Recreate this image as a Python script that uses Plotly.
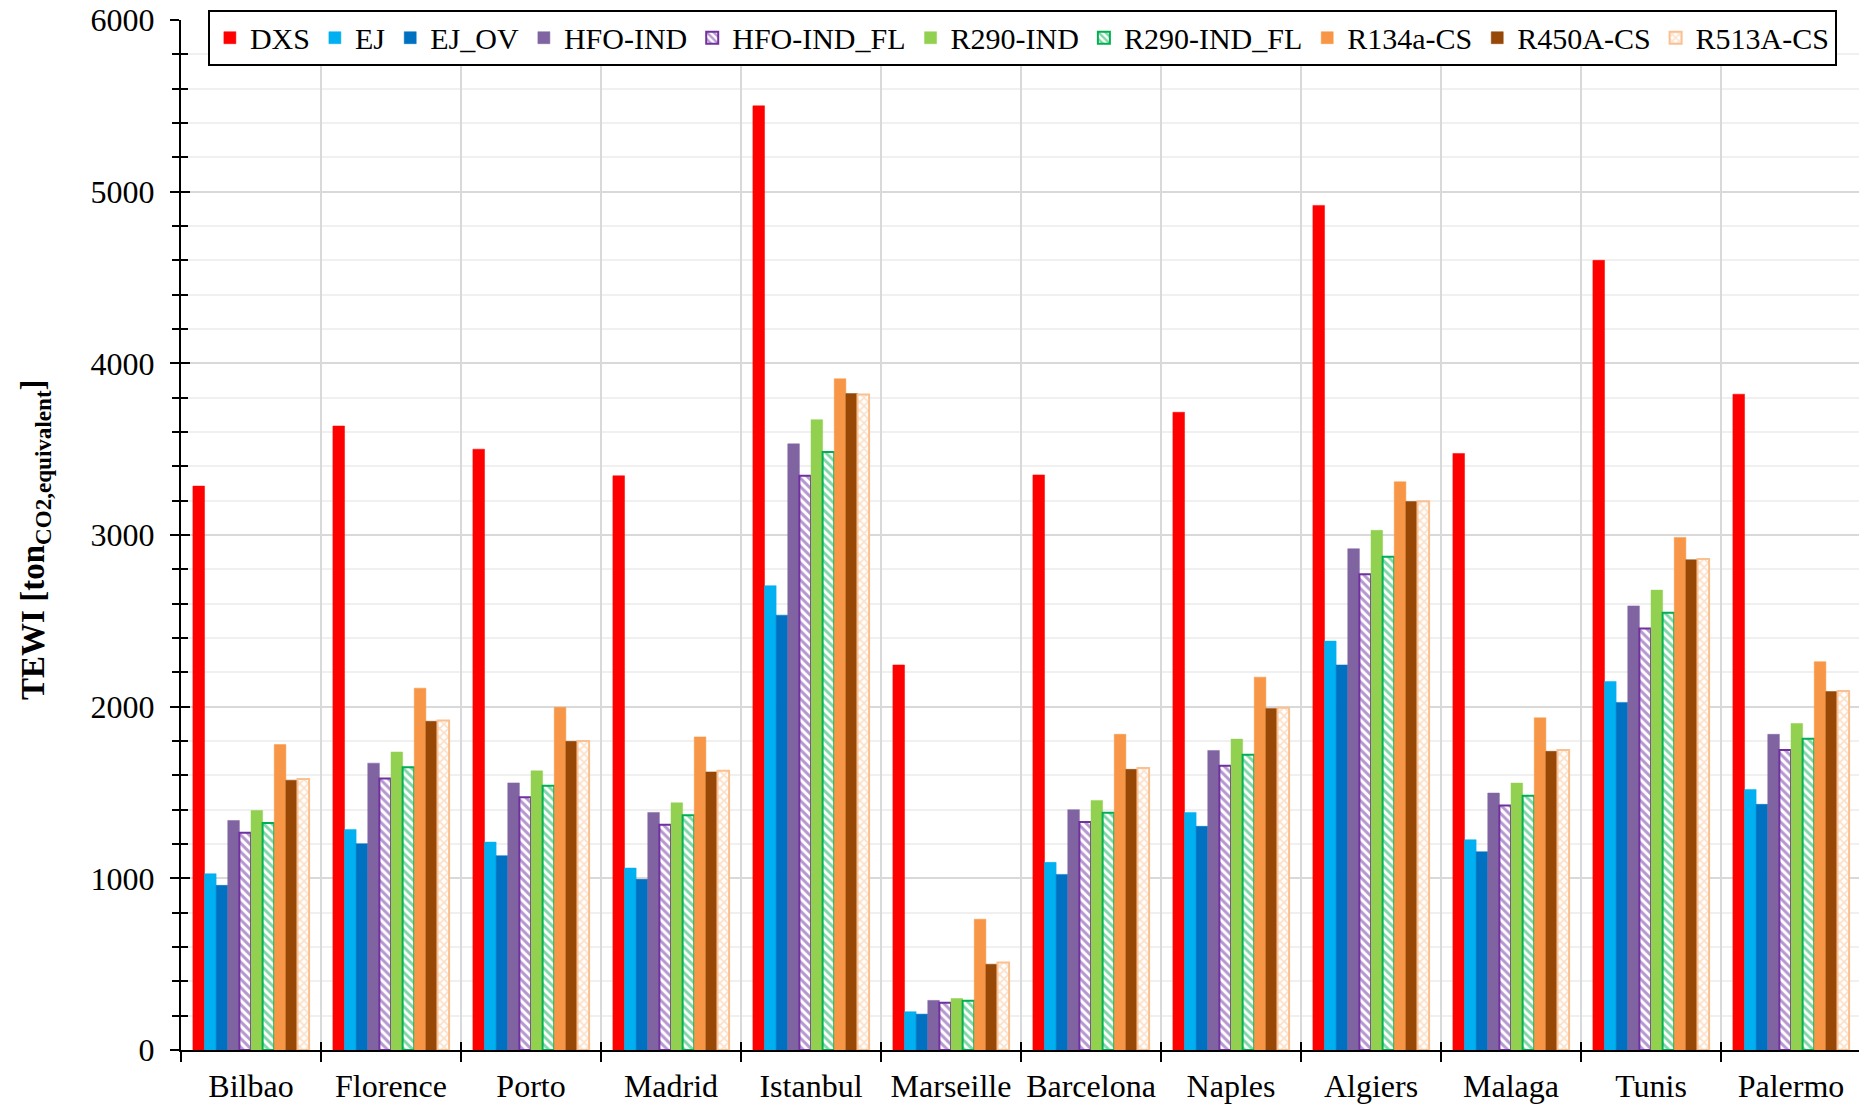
import plotly.graph_objects as go

cities = ["Bilbao", "Florence", "Porto", "Madrid", "Istanbul", "Marseille",
          "Barcelona", "Naples", "Algiers", "Malaga", "Tunis", "Palermo"]

DXS = [3285, 3635, 3500, 3345, 5500, 2243, 3350, 3715, 4920, 3475, 4600, 3820]
EJ = [1027, 1285, 1211, 1060, 2705, 223, 1093, 1384, 2382, 1225, 2147, 1518]
EJ_OV = [959, 1202, 1132, 994, 2533, 209, 1023, 1303, 2243, 1155, 2025, 1431]
HFO_IND = [1337, 1671, 1556, 1384, 3531, 289, 1400, 1745, 2920, 1497, 2587, 1839]
HFO_IND_FL = [1265, 1581, 1473, 1312, 3345, 275, 1328, 1656, 2771, 1425, 2456, 1747]
R290_IND = [1395, 1736, 1626, 1440, 3672, 300, 1454, 1811, 3027, 1555, 2679, 1902]
R290_IND_FL = [1322, 1647, 1539, 1368, 3484, 287, 1382, 1720, 2873, 1481, 2547, 1813]
R134a_CS = [1779, 2108, 1996, 1824, 3910, 762, 1839, 2172, 3310, 1935, 2986, 2262]
R450A_CS = [1572, 1915, 1798, 1620, 3824, 500, 1635, 1990, 3195, 1740, 2856, 2088]
R513A_CS = [1578, 1919, 1800, 1626, 3818, 510, 1642, 1994, 3197, 1747, 2860, 2091]

series = [
    ("DXS", DXS, "#FF0000", None),
    ("EJ", EJ, "#00B0F0", None),
    ("EJ_OV", EJ_OV, "#0070C0", None),
    ("HFO-IND", HFO_IND, "#8064A2", None),
    ("HFO-IND_FL", HFO_IND_FL, "#7030A0", "\\"),
    ("R290-IND", R290_IND, "#92D050", None),
    ("R290-IND_FL", R290_IND_FL, "#00B050", "\\"),
    ("R134a-CS", R134a_CS, "#F79646", None),
    ("R450A-CS", R450A_CS, "#974706", None),
    ("R513A-CS", R513A_CS, "#FAC090", "x"),
]

FONT = "Liberation Serif, Times New Roman, serif"

fig = go.Figure()
for name, vals, col, pat in series:
    if pat is None:
        marker = dict(color=col, line=dict(color=col, width=0.5))
    else:
        marker = dict(color="white", line=dict(color=col, width=2),
                      pattern=dict(shape=pat, fgcolor=col, bgcolor="white",
                                   size=6, solidity=0.5, fillmode="overlay"))
    fig.add_trace(go.Bar(name=name, x=cities, y=vals, marker=marker))

# invisible trace for overlay axes (inside tick halves)
fig.add_trace(go.Scatter(x=cities, y=[0] * len(cities), xaxis="x2", yaxis="y2",
                         mode="markers", marker=dict(opacity=0), showlegend=False,
                         hoverinfo="skip"))

fig.update_layout(
    width=1859, height=1099,
    paper_bgcolor="white", plot_bgcolor="white",
    font=dict(family=FONT, size=32, color="black"),
    barmode="group", bargap=0.17, bargroupgap=0,
    margin=dict(l=173, r=6, t=12, b=57, autoexpand=False),
    showlegend=True,
    legend=dict(orientation="h", x=0.016, y=1.01, xanchor="left", yanchor="top",
                bgcolor="white", bordercolor="black", borderwidth=2,
                font=dict(family=FONT, size=30), traceorder="normal",
                itemwidth=30, tracegroupgap=0),
    xaxis=dict(type="category", range=[-0.5, 11.5], tickson="boundaries",
               ticks="outside", ticklen=10, tickwidth=2, tickcolor="black",
               showline=True, linecolor="black", linewidth=2,
               showgrid=True, gridcolor="#d9d9d9", gridwidth=2,
               tickfont=dict(family=FONT, size=32), zeroline=False,
               ticklabelstandoff=7, ticklabeloverflow="allow"),
    yaxis=dict(range=[0, 6000], dtick=1000, ticks="outside", ticklen=9, tickwidth=2,
               tickcolor="black", showline=True, linecolor="black", linewidth=2,
               showgrid=True, gridcolor="#d9d9d9", gridwidth=2, zeroline=False,
               tickfont=dict(family=FONT, size=32), ticklabelstandoff=9,
               ticklabeloverflow="allow",
               minor=dict(dtick=200, ticks="outside", ticklen=7, tickwidth=1.5,
                          tickcolor="black", showgrid=True, gridcolor="#f0f0f0",
                          gridwidth=2)),
    xaxis2=dict(type="category", range=[-0.5, 11.5], overlaying="x", anchor="y",
                side="bottom", tickson="boundaries", ticks="inside", ticklen=8,
                tickwidth=2, tickcolor="black", showticklabels=False,
                showgrid=False, showline=False, zeroline=False),
    yaxis2=dict(range=[0, 6000], overlaying="y", anchor="x", side="left",
                dtick=1000, ticks="inside", ticklen=9, tickwidth=2, tickcolor="black",
                showticklabels=False, showgrid=False, showline=False, zeroline=False,
                minor=dict(dtick=200, ticks="inside", ticklen=7, tickwidth=1.5,
                           tickcolor="black", showgrid=False)),
    annotations=[dict(text="<b>TEWI [ton<sub>CO2,equivalent</sub>]</b>",
                      xref="paper", yref="paper", x=-0.087, y=0.496,
                      xanchor="center", yanchor="middle", textangle=-90,
                      showarrow=False, font=dict(family=FONT, size=33))],
)

fig.write_html("out.html")
